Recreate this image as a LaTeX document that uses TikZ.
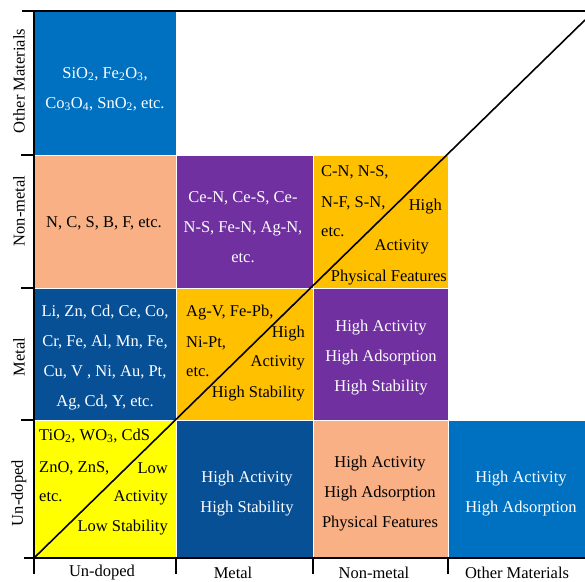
\documentclass[tikz,border=0pt]{standalone}
\usepackage{fontspec}
\setmainfont{Liberation Serif}
\usetikzlibrary{fit}
\definecolor{cblue}{RGB}{0,112,192}
\definecolor{cdblue}{RGB}{8,80,150}
\definecolor{csalmon}{RGB}{248,176,132}
\definecolor{cpurple}{RGB}{112,48,160}
\definecolor{corange}{RGB}{255,192,0}
\definecolor{cyellow}{RGB}{255,255,0}
\begin{document}
\begin{tikzpicture}[x=1pt,y=-1pt,
  cell/.style={draw=white, line width=0.6pt, inner sep=0pt},
  txt/.style={font=\fontsize{16.5}{30}\selectfont, inner sep=0pt, align=center},
  wtxt/.style={txt, text=white},
  lt/.style={txt, anchor=west},
  rt/.style={txt, anchor=east},
  axis/.style={line width=1.8pt, black},
  diag/.style={line width=1.6pt, black}]
\useasboundingbox (0,0) rectangle (585,581);
% cells
\node[cell, fill=cblue,   fit={(34,11)(176,155)}] (om1) {};
\node[cell, fill=csalmon, fit={(34,155)(176,288)}] (nm1) {};
\node[cell, fill=cpurple, fit={(176,155)(313,288)}] (nm2) {};
\node[cell, fill=corange, fit={(313,155)(448,288)}] (nm3) {};
\node[cell, fill=cdblue,  fit={(34,288)(176,420)}] (me1) {};
\node[cell, fill=corange, fit={(176,288)(313,420)}] (me2) {};
\node[cell, fill=cpurple, fit={(313,288)(448,420)}] (me3) {};
\node[cell, fill=cyellow, fit={(34,420)(176,558)}] (ud1) {};
\node[cell, fill=cdblue,  fit={(176,420)(313,558)}] (ud2) {};
\node[cell, fill=csalmon, fit={(313,420)(448,558)}] (ud3) {};
\node[cell, fill=cblue,   fit={(448,420)(585,558)}] (ud4) {};
% diagonal
\coordinate (d0) at (34,558);
\coordinate (d1) at (585,20);
\draw[diag] (d0) -- (d1);
% axes
\draw[axis] (22,11) -- (585,11);
\draw[axis] (34,11) -- (34,574);
\draw[axis] (24,558) -- (585,558);
\foreach \yy in {155,288,420} \draw[axis] (21,\yy) -- (34,\yy);
\foreach \xx in {176,313,448} \draw[axis] (\xx,558) -- (\xx,574);
% centered texts
\node[wtxt] (t1) at (105,89) {SiO\textsubscript{2}, Fe\textsubscript{2}O\textsubscript{3},\\Co\textsubscript{3}O\textsubscript{4}, SnO\textsubscript{2}, etc.};
\node[txt] (t2) at (104,223) {N, C, S, B, F, etc.};
\node[wtxt] (t3) at (243,227) {Ce-N, Ce-S, Ce-\\N-S, Fe-N, Ag-N,\\etc.};
\node[wtxt] (t4) at (105,358) {Li, Zn, Cd, Ce, Co,\\Cr, Fe, Al, Mn, Fe,\\Cu, V , Ni, Au, Pt,\\Ag, Cd, Y, etc.};
\node[wtxt] (t5) at (381,358) {High Activity\\High Adsorption\\High Stability};
\node[wtxt] (t6) at (247,494) {High Activity\\High Stability};
\node[txt] (t7) at (380,494) {High Activity\\High Adsorption\\Physical Features};
\node[wtxt] (t8) at (521,494) {High Activity\\High Adsorption};
% orange non-metal
\node[lt] (a1) at (321,172) {C-N, N-S,};
\node[lt] (a2) at (321,203) {N-F, S-N,};
\node[lt] (a3) at (321,232) {etc.};
\node[rt] (a4) at (442,207) {High};
\node[rt] (a5) at (429,247) {Activity};
\node[rt] (a6) at (447,278) {Physical Features};
% orange metal
\node[lt] (b1) at (186,313) {Ag-V, Fe-Pb,};
\node[lt] (b2) at (186,343) {Ni-Pt,};
\node[lt] (b3) at (186,372) {etc.};
\node[rt] (b4) at (305,334) {High};
\node[rt] (b5) at (305,363) {Activity};
\node[rt] (b6) at (305,394) {High Stability};
% yellow
\node[lt] (c1) at (39,436) {TiO\textsubscript{2}, WO\textsubscript{3}, CdS};
\node[lt] (c2) at (39,468) {ZnO, ZnS,};
\node[lt] (c3) at (39,497) {etc.};
\node[rt] (c4) at (168,468) {Low};
\node[rt] (c5) at (168,498) {Activity};
\node[rt] (c6) at (168,528) {Low Stability};
% axis labels
\node[txt] (x1) at (102,573) {Un-doped};
\node[txt] (x2) at (233,573) {Metal};
\node[txt] (x3) at (374,573) {Non-metal};
\node[txt] (x4) at (517,573) {Other Materials};
\node[txt, rotate=90] (y1) at (19,81) {Other Materials};
\node[txt, rotate=90] (y2) at (19,211) {Non-metal};
\node[txt, rotate=90] (y3) at (19,357) {Metal};
\node[txt, rotate=90] (y4) at (19,493) {Un-doped};
\end{tikzpicture}
\end{document}
